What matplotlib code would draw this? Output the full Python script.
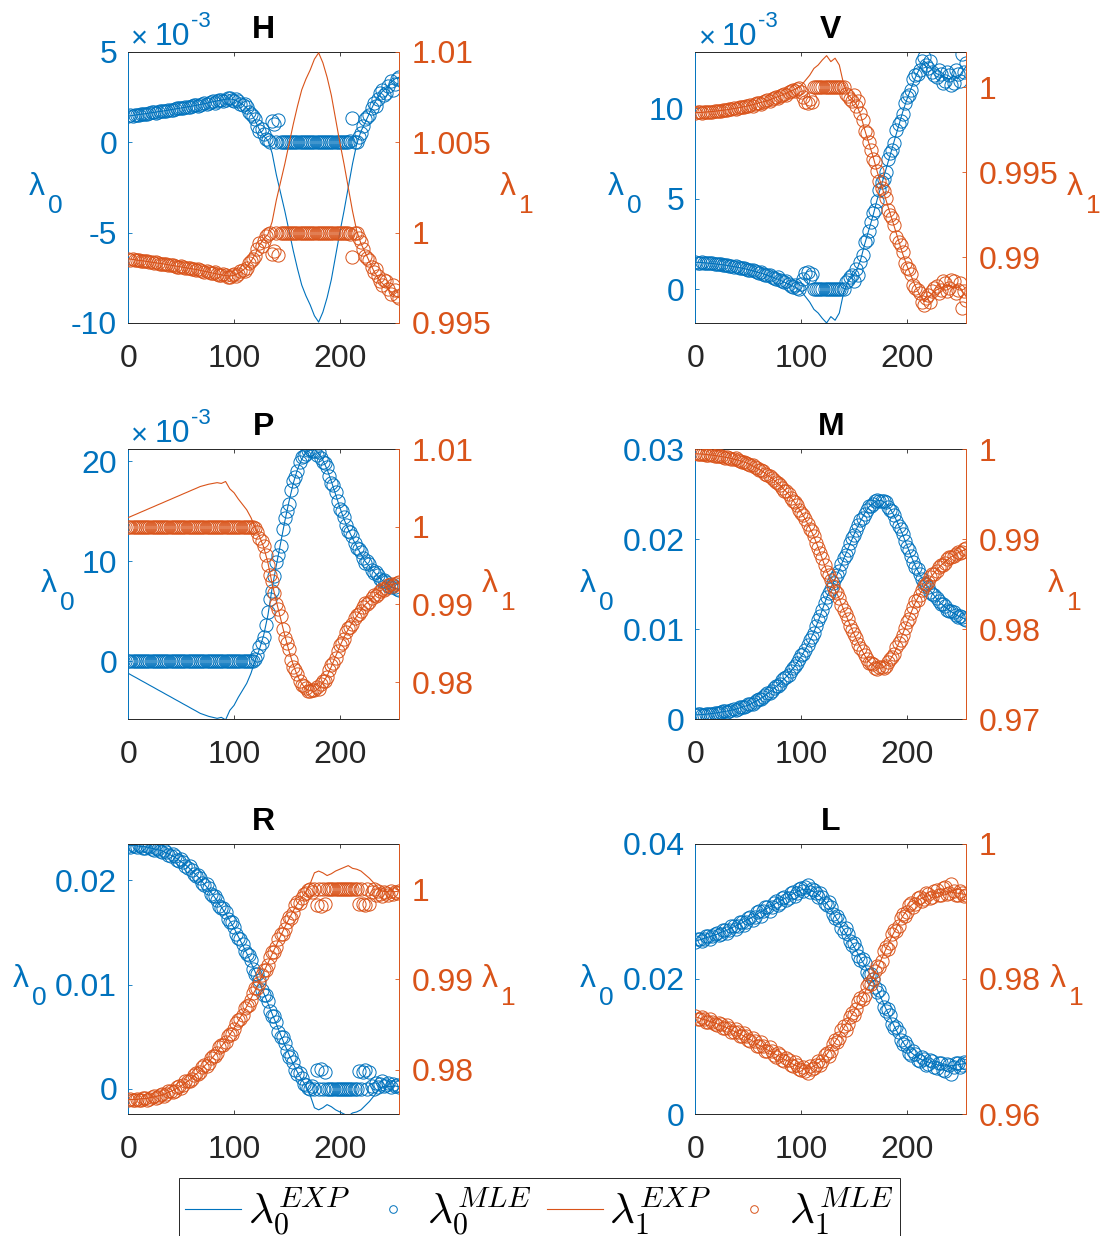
import numpy as np
import matplotlib
matplotlib.use('Agg')
import matplotlib.pyplot as plt
from matplotlib.ticker import FuncFormatter
from matplotlib.font_manager import FontProperties
from matplotlib.lines import Line2D

# Fuentes parecidas a las de MATLAB (Helvetica -> Liberation Sans)
plt.rcParams['font.family'] = 'Liberation Sans'

azul = '#0072BD'
naranja = '#D95319'
gris = '#262626'

# Ejes x: curvas EXP cada 4 muestras, puntos MLE cada 2 muestras
x4 = np.arange(0, 257, 4)
x2 = np.arange(0, 257, 2)

# ---------------- H ----------------
# lambda_0 en unidades de 1e-3
h_l0_exp = [1.45, 1.48, 1.52, 1.55, 1.58, 1.62, 1.65, 1.69, 1.72, 1.76, 1.80, 1.84, 1.88,
            1.92, 1.96, 2.00, 2.04, 2.09, 2.14, 2.19, 2.24, 2.29, 2.34, 2.38, 2.40, 2.36,
            2.25, 2.10, 1.90, 1.60, 1.20, 0.70, 0.35, 0.10, -0.60, -1.80, -2.80, -3.80, -4.90,
            -6.00, -7.00, -7.90, -8.50, -9.00, -9.60, -9.95, -9.40, -8.60, -7.60, -6.30, -5.00, -3.80,
            -2.50, -1.20, -0.10, 0.60, 1.10, 1.60, 2.10, 2.50, 2.80, 3.00, 3.30, 3.50, 3.60]
h_l1_exp = [0.99855, 0.99852, 0.99848, 0.99845, 0.99842, 0.99838, 0.99835, 0.99831, 0.99828, 0.99824, 0.99820, 0.99816, 0.99812,
            0.99808, 0.99804, 0.99800, 0.99796, 0.99791, 0.99786, 0.99781, 0.99776, 0.99771, 0.99766, 0.99762, 0.99760, 0.99764,
            0.99775, 0.99790, 0.99810, 0.99840, 0.99880, 0.99930, 0.99965, 0.99990, 1.00060, 1.00180, 1.00280, 1.00380, 1.00490,
            1.00600, 1.00700, 1.00790, 1.00850, 1.00900, 1.00960, 1.00995, 1.00940, 1.00860, 1.00760, 1.00630, 1.00500, 1.00380,
            1.00250, 1.00120, 1.00010, 0.99940, 0.99890, 0.99840, 0.99790, 0.99750, 0.99720, 0.99700, 0.99670, 0.99650, 0.99640]
h_l0_mle = [1.45, 1.50, 1.47, 1.49, 1.53, 1.51, 1.55, 1.58, 1.59, 1.57, 1.61, 1.65, 1.66, 1.64, 1.68, 1.72,
            1.73, 1.71, 1.75, 1.79, 1.81, 1.79, 1.83, 1.88, 1.89, 1.87, 1.91, 1.96, 1.97, 1.95, 1.99, 2.04,
            2.05, 2.03, 2.08, 2.14, 2.16, 2.12, 2.17, 2.25, 2.26, 2.20, 2.27, 2.35, 2.36, 2.28, 2.35, 2.46,
            2.45, 2.32, 2.30, 2.38, 2.30, 2.12, 2.05, 2.10, 1.95, 1.70, 1.55, 1.45, 1.30, 0.90, 0.60, 0.75,
            0.45, 0.20, 0.10, 0.00, 1.20, 1.00, 0.00, 1.25, 0.00, 0.00, 0.00, 0.00, 0.00, 0.00, 0.00, 0.00,
            0.00, 0.00, 0.00, 0.00, 0.00, 0.00, 0.00, 0.00, 0.00, 0.00, 0.00, 0.00, 0.00, 0.00, 0.00, 0.00,
            0.00, 0.00, 0.00, 0.00, 0.00, 0.00, 0.00, 0.00, 0.00, 0.05, 1.35, 0.00, 0.00, 0.30, 0.50, 0.90,
            1.30, 1.40, 1.50, 1.90, 2.20, 2.00, 2.40, 2.70, 2.90, 2.60, 2.70, 3.10, 3.40, 2.90, 3.20, 3.50, 3.60]
h_l1_mle = [0.99855, 0.99850, 0.99853, 0.99851, 0.99847, 0.99849, 0.99845, 0.99842, 0.99841, 0.99843, 0.99839, 0.99835, 0.99834, 0.99836, 0.99832, 0.99828,
            0.99827, 0.99829, 0.99825, 0.99821, 0.99819, 0.99821, 0.99817, 0.99812, 0.99811, 0.99813, 0.99809, 0.99804, 0.99803, 0.99805, 0.99801, 0.99796,
            0.99795, 0.99797, 0.99792, 0.99786, 0.99784, 0.99788, 0.99783, 0.99775, 0.99774, 0.99780, 0.99773, 0.99765, 0.99764, 0.99772, 0.99765, 0.99754,
            0.99755, 0.99768, 0.99770, 0.99762, 0.99770, 0.99788, 0.99795, 0.99790, 0.99805, 0.99830, 0.99845, 0.99855, 0.99870, 0.99910, 0.99940, 0.99925,
            0.99955, 0.99980, 0.99990, 1.0, 0.99880, 0.99900, 1.0, 0.99875, 1.0, 1.0, 1.0, 1.0, 1.0, 1.0, 1.0, 1.0,
            1.0, 1.0, 1.0, 1.0, 1.0, 1.0, 1.0, 1.0, 1.0, 1.0, 1.0, 1.0, 1.0, 1.0, 1.0, 1.0,
            1.0, 1.0, 1.0, 1.0, 1.0, 1.0, 1.0, 1.0, 1.0, 0.99995, 0.99865, 1.0, 1.0, 0.99970, 0.99950, 0.99910,
            0.99870, 0.99860, 0.99850, 0.99810, 0.99780, 0.99800, 0.99760, 0.99730, 0.99710, 0.99740, 0.99730, 0.99690, 0.99660, 0.99710, 0.99680, 0.99650, 0.99640]

# ---------------- V ----------------
v_l0_exp = [1.50, 1.49, 1.47, 1.45, 1.43, 1.40, 1.37, 1.34, 1.30, 1.26, 1.22, 1.17, 1.12,
            1.06, 1.00, 0.93, 0.86, 0.78, 0.70, 0.61, 0.51, 0.40, 0.29, 0.18, 0.08, -0.10,
            -0.40, -0.70, -1.10, -1.30, -1.60, -1.85, -1.50, -1.70, -1.30, -0.20, 0.40, 0.70, 1.00,
            1.60, 2.50, 3.30, 4.10, 5.00, 5.80, 6.60, 7.40, 8.20, 9.00, 9.80, 10.50, 11.10,
            11.70, 12.20, 12.60, 12.40, 12.10, 11.90, 11.80, 11.70, 11.60, 11.80, 11.60, 12.00, 12.30]
v_l1_exp = [0.99850, 0.99851, 0.99853, 0.99855, 0.99857, 0.99860, 0.99863, 0.99866, 0.99870, 0.99874, 0.99878, 0.99883, 0.99888,
            0.99894, 0.99900, 0.99907, 0.99914, 0.99922, 0.99930, 0.99939, 0.99949, 0.99960, 0.99971, 0.99982, 0.99992, 1.00010,
            1.00040, 1.00070, 1.00110, 1.00130, 1.00160, 1.00185, 1.00150, 1.00170, 1.00130, 1.00020, 0.99960, 0.99930, 0.99900,
            0.99840, 0.99750, 0.99670, 0.99590, 0.99500, 0.99420, 0.99340, 0.99260, 0.99180, 0.99100, 0.99020, 0.98950, 0.98890,
            0.98830, 0.98780, 0.98740, 0.98760, 0.98790, 0.98810, 0.98820, 0.98830, 0.98840, 0.98820, 0.98840, 0.98800, 0.98770]
v_l0_mle = [1.50, 1.47, 1.48, 1.51, 1.48, 1.45, 1.44, 1.46, 1.44, 1.40, 1.39, 1.41, 1.38, 1.34, 1.33, 1.35,
            1.31, 1.27, 1.25, 1.28, 1.23, 1.18, 1.16, 1.19, 1.13, 1.08, 1.05, 1.09, 1.01, 0.95, 0.92, 0.96,
            0.87, 0.80, 0.77, 0.82, 0.71, 0.64, 0.60, 0.66, 0.52, 0.44, 0.39, 0.46, 0.30, 0.20, 0.15, 0.25,
            0.10, 0.05, 0.30, 0.60, 0.90, 0.95, 0.70, 0.85, 0.00, 0.00, 0.00, 0.00, 0.00, 0.00, 0.00, 0.00,
            0.00, 0.00, 0.00, 0.00, 0.00, 0.00, 0.00, 0.40, 0.50, 0.70, 0.80, 0.45, 1.10, 0.80, 1.50, 1.90,
            2.60, 2.70, 3.20, 3.70, 4.20, 4.40, 4.90, 5.50, 5.90, 6.10, 6.50, 7.20, 7.50, 7.70, 8.10, 8.80,
            9.10, 9.30, 9.70, 10.30, 10.60, 10.70, 11.00, 11.60, 11.80, 11.90, 12.10, 12.60, 12.80, 12.40, 12.20, 12.60,
            12.00, 11.80, 11.70, 12.10, 11.90, 11.40, 11.50, 12.00, 11.80, 11.30, 11.40, 12.10, 11.90, 11.50, 13.00, 12.00, 12.50]
v_l1_mle = [0.99850, 0.99853, 0.99852, 0.99849, 0.99852, 0.99855, 0.99856, 0.99854, 0.99856, 0.99860, 0.99861, 0.99859, 0.99862, 0.99866, 0.99867, 0.99865,
            0.99869, 0.99873, 0.99875, 0.99872, 0.99877, 0.99882, 0.99884, 0.99881, 0.99887, 0.99892, 0.99895, 0.99891, 0.99899, 0.99905, 0.99908, 0.99904,
            0.99913, 0.99920, 0.99923, 0.99918, 0.99929, 0.99936, 0.99940, 0.99934, 0.99948, 0.99956, 0.99961, 0.99954, 0.99970, 0.99980, 0.99985, 0.99975,
            0.99990, 0.99995, 0.99970, 0.99940, 0.99910, 0.99905, 0.99930, 0.99915, 1.0, 1.0, 1.0, 1.0, 1.0, 1.0, 1.0, 1.0,
            1.0, 1.0, 1.0, 1.0, 1.0, 1.0, 1.0, 0.99960, 0.99950, 0.99930, 0.99920, 0.99955, 0.99890, 0.99920, 0.99850, 0.99810,
            0.99740, 0.99730, 0.99680, 0.99630, 0.99580, 0.99560, 0.99510, 0.99450, 0.99410, 0.99390, 0.99350, 0.99280, 0.99250, 0.99230, 0.99190, 0.99120,
            0.99090, 0.99070, 0.99030, 0.98970, 0.98940, 0.98930, 0.98900, 0.98840, 0.98820, 0.98810, 0.98790, 0.98740, 0.98720, 0.98760, 0.98780, 0.98740,
            0.98800, 0.98820, 0.98830, 0.98790, 0.98810, 0.98860, 0.98850, 0.98800, 0.98820, 0.98870, 0.98860, 0.98790, 0.98810, 0.98850, 0.98700, 0.98800, 0.98750]

# ---------------- P ----------------
p_l0_exp = [-1.20, -1.44, -1.67, -1.91, -2.14, -2.38, -2.61, -2.85, -3.08, -3.32, -3.55, -3.79, -4.02,
            -4.26, -4.49, -4.73, -4.96, -5.20, -5.35, -5.50, -5.60, -5.70, -5.60, -5.85, -4.90, -4.40,
            -3.60, -2.90, -2.20, -1.20, 0.10, 1.20, 2.60, 4.60, 7.30, 9.60, 11.80, 14.00, 16.00,
            17.80, 19.20, 20.20, 20.90, 21.10, 21.20, 20.80, 20.10, 19.20, 18.00, 16.70, 15.40, 14.20,
            13.20, 12.30, 11.50, 10.70, 10.00, 9.50, 9.00, 8.50, 8.10, 7.80, 7.50, 7.30, 7.20]
p_l1_exp = [1.00120, 1.00144, 1.00167, 1.00191, 1.00214, 1.00238, 1.00261, 1.00285, 1.00308, 1.00332, 1.00355, 1.00379, 1.00402,
            1.00426, 1.00449, 1.00473, 1.00496, 1.00520, 1.00535, 1.00550, 1.00560, 1.00570, 1.00560, 1.00585, 1.00490, 1.00440,
            1.00360, 1.00290, 1.00220, 1.00120, 0.99990, 0.99880, 0.99740, 0.99540, 0.99270, 0.99040, 0.98820, 0.98600, 0.98400,
            0.98220, 0.98080, 0.97980, 0.97910, 0.97890, 0.97880, 0.97920, 0.97990, 0.98080, 0.98200, 0.98330, 0.98460, 0.98580,
            0.98680, 0.98770, 0.98850, 0.98930, 0.99000, 0.99050, 0.99100, 0.99150, 0.99190, 0.99220, 0.99250, 0.99270, 0.99280]
p_l0_mle = [0.00, 0.00, 0.00, 0.00, 0.00, 0.00, 0.00, 0.00, 0.00, 0.00, 0.00, 0.00, 0.00, 0.00, 0.00, 0.00,
            0.00, 0.00, 0.00, 0.00, 0.00, 0.00, 0.00, 0.00, 0.00, 0.00, 0.00, 0.00, 0.00, 0.00, 0.00, 0.00,
            0.00, 0.00, 0.00, 0.00, 0.00, 0.00, 0.00, 0.00, 0.00, 0.00, 0.00, 0.00, 0.00, 0.00, 0.00, 0.00,
            0.00, 0.00, 0.00, 0.00, 0.00, 0.00, 0.00, 0.00, 0.00, 0.00, 0.00, 0.00, 0.20, 0.60, 1.40, 1.80,
            2.40, 3.60, 4.90, 6.20, 7.00, 8.50, 9.90, 10.60, 11.50, 13.20, 14.30, 15.00, 15.70, 17.10, 18.00, 18.40,
            19.00, 19.90, 20.40, 20.50, 20.70, 21.10, 21.20, 21.00, 21.00, 20.60, 20.90, 20.30, 19.90, 19.80, 19.40, 18.50,
            17.80, 17.60, 16.90, 16.00, 15.20, 15.00, 14.40, 13.60, 13.00, 12.90, 12.50, 11.80, 11.30, 11.20, 10.90, 10.30,
            9.80, 10.00, 9.70, 9.10, 8.80, 8.90, 8.60, 8.20, 8.00, 8.10, 7.90, 7.50, 7.40, 7.60, 7.40, 7.20, 7.10]
p_l1_mle = [1.0, 1.0, 1.0, 1.0, 1.0, 1.0, 1.0, 1.0, 1.0, 1.0, 1.0, 1.0, 1.0, 1.0, 1.0, 1.0,
            1.0, 1.0, 1.0, 1.0, 1.0, 1.0, 1.0, 1.0, 1.0, 1.0, 1.0, 1.0, 1.0, 1.0, 1.0, 1.0,
            1.0, 1.0, 1.0, 1.0, 1.0, 1.0, 1.0, 1.0, 1.0, 1.0, 1.0, 1.0, 1.0, 1.0, 1.0, 1.0,
            1.0, 1.0, 1.0, 1.0, 1.0, 1.0, 1.0, 1.0, 1.0, 1.0, 1.0, 1.0, 0.99980, 0.99940, 0.99860, 0.99820,
            0.99760, 0.99640, 0.99510, 0.99380, 0.99300, 0.99150, 0.99010, 0.98940, 0.98850, 0.98680, 0.98570, 0.98500, 0.98430, 0.98290, 0.98200, 0.98160,
            0.98100, 0.98010, 0.97960, 0.97950, 0.97930, 0.97890, 0.97880, 0.97900, 0.97900, 0.97940, 0.97910, 0.97970, 0.98010, 0.98020, 0.98060, 0.98150,
            0.98220, 0.98240, 0.98310, 0.98400, 0.98480, 0.98500, 0.98560, 0.98640, 0.98700, 0.98710, 0.98750, 0.98820, 0.98870, 0.98880, 0.98910, 0.98970,
            0.99020, 0.99000, 0.99030, 0.99090, 0.99120, 0.99110, 0.99140, 0.99180, 0.99200, 0.99190, 0.99210, 0.99250, 0.99260, 0.99240, 0.99260, 0.99280, 0.99290]

# ---------------- M ----------------
m_l0_exp = [0.50, 0.52, 0.55, 0.60, 0.65, 0.72, 0.80, 0.88, 0.97, 1.08, 1.20, 1.35, 1.50,
            1.70, 1.95, 2.20, 2.50, 2.85, 3.20, 3.60, 4.00, 4.50, 5.00, 5.60, 6.30, 7.00,
            7.80, 8.70, 9.70, 10.90, 12.20, 13.50, 14.60, 15.60, 16.60, 17.80, 18.90, 20.00, 21.10,
            22.00, 22.90, 23.60, 24.00, 24.30, 24.30, 24.00, 23.40, 22.60, 21.60, 20.50, 19.30, 18.10,
            17.00, 16.10, 15.30, 14.60, 14.00, 13.40, 12.90, 12.50, 12.10, 11.80, 11.50, 11.30, 11.10]
m_l1_exp = [0.99950, 0.99948, 0.99945, 0.99940, 0.99935, 0.99928, 0.99920, 0.99912, 0.99903, 0.99892, 0.99880, 0.99865, 0.99850,
            0.99830, 0.99805, 0.99780, 0.99750, 0.99715, 0.99680, 0.99640, 0.99600, 0.99550, 0.99500, 0.99440, 0.99370, 0.99300,
            0.99220, 0.99130, 0.99030, 0.98910, 0.98780, 0.98650, 0.98540, 0.98440, 0.98340, 0.98220, 0.98110, 0.98000, 0.97890,
            0.97800, 0.97710, 0.97640, 0.97600, 0.97570, 0.97570, 0.97600, 0.97660, 0.97740, 0.97840, 0.97950, 0.98070, 0.98190,
            0.98300, 0.98390, 0.98470, 0.98540, 0.98600, 0.98660, 0.98710, 0.98750, 0.98790, 0.98820, 0.98850, 0.98870, 0.98890]
m_l0_mle = [0.45, 0.55, 0.55, 0.48, 0.52, 0.60, 0.64, 0.56, 0.62, 0.72, 0.76, 0.70, 0.78, 0.88, 0.92, 0.86,
            0.95, 1.08, 1.12, 1.00, 1.18, 1.32, 1.40, 1.36, 1.47, 1.66, 1.75, 1.74, 1.92, 2.12, 2.26, 2.25,
            2.46, 2.72, 2.91, 2.96, 3.15, 3.46, 3.68, 3.72, 3.95, 4.32, 4.58, 4.67, 4.95, 5.38, 5.70, 5.88,
            6.22, 6.75, 7.10, 7.30, 7.70, 8.30, 8.85, 9.10, 9.60, 10.40, 11.00, 11.50, 12.10, 12.90, 13.60, 14.00,
            14.50, 15.20, 15.70, 16.00, 16.50, 17.30, 17.90, 18.30, 18.80, 19.60, 20.10, 20.50, 21.00, 21.60, 22.10, 22.40,
            22.80, 23.30, 23.70, 23.70, 23.90, 24.30, 24.40, 24.20, 24.20, 24.30, 24.10, 23.60, 23.30, 23.10, 22.70, 22.00,
            21.50, 21.20, 20.60, 19.80, 19.20, 18.80, 18.20, 17.50, 16.90, 16.70, 16.20, 15.60, 15.20, 15.00, 14.70, 14.20,
            13.90, 13.80, 13.50, 13.10, 12.80, 12.80, 12.60, 12.20, 12.00, 12.00, 11.90, 11.60, 11.40, 11.50, 11.40, 11.10, 11.00]
m_l1_mle = [0.99955, 0.99945, 0.99945, 0.99952, 0.99948, 0.99940, 0.99936, 0.99944, 0.99938, 0.99928, 0.99924, 0.99930, 0.99922, 0.99912, 0.99908, 0.99914,
            0.99905, 0.99892, 0.99888, 0.99900, 0.99882, 0.99868, 0.99860, 0.99864, 0.99853, 0.99834, 0.99825, 0.99826, 0.99808, 0.99788, 0.99774, 0.99775,
            0.99754, 0.99728, 0.99709, 0.99704, 0.99685, 0.99654, 0.99632, 0.99628, 0.99605, 0.99568, 0.99542, 0.99533, 0.99505, 0.99462, 0.99430, 0.99412,
            0.99378, 0.99325, 0.99290, 0.99270, 0.99230, 0.99170, 0.99115, 0.99090, 0.99040, 0.98960, 0.98900, 0.98850, 0.98790, 0.98710, 0.98640, 0.98600,
            0.98550, 0.98480, 0.98430, 0.98400, 0.98350, 0.98270, 0.98210, 0.98170, 0.98120, 0.98040, 0.97990, 0.97950, 0.97900, 0.97840, 0.97790, 0.97760,
            0.97720, 0.97670, 0.97630, 0.97630, 0.97610, 0.97570, 0.97560, 0.97580, 0.97580, 0.97570, 0.97590, 0.97640, 0.97670, 0.97690, 0.97730, 0.97800,
            0.97850, 0.97880, 0.97940, 0.98020, 0.98080, 0.98120, 0.98180, 0.98250, 0.98310, 0.98330, 0.98380, 0.98440, 0.98480, 0.98500, 0.98530, 0.98580,
            0.98610, 0.98620, 0.98650, 0.98690, 0.98720, 0.98720, 0.98740, 0.98780, 0.98800, 0.98800, 0.98810, 0.98840, 0.98860, 0.98850, 0.98860, 0.98890, 0.98900]

# ---------------- R ----------------
r_l0_exp = [23.3, 23.3, 23.3, 23.2, 23.2, 23.1, 23.0, 22.9, 22.8, 22.6, 22.4, 22.2, 21.9,
            21.6, 21.3, 20.9, 20.5, 20.1, 19.6, 19.1, 18.6, 18.0, 17.4, 16.8, 16.1, 15.4,
            14.6, 13.8, 13.0, 12.1, 11.2, 10.2, 9.2, 8.2, 7.2, 6.2, 5.2, 4.2, 3.3,
            2.4, 1.6, 0.9, 0.3, -0.6, -1.8, -2.0, -1.8, -1.5, -1.7, -2.0, -2.2, -2.4,
            -2.6, -2.3, -2.2, -2.0, -1.6, -1.2, -0.7, -0.2, 0.2, 0.3, 0.2, 0.3, 0.2]
r_l1_exp = [0.97670, 0.97670, 0.97670, 0.97680, 0.97680, 0.97690, 0.97700, 0.97710, 0.97720, 0.97740, 0.97760, 0.97780, 0.97810,
            0.97840, 0.97870, 0.97910, 0.97950, 0.97990, 0.98040, 0.98090, 0.98140, 0.98200, 0.98260, 0.98320, 0.98390, 0.98460,
            0.98540, 0.98620, 0.98700, 0.98790, 0.98880, 0.98980, 0.99080, 0.99180, 0.99280, 0.99380, 0.99480, 0.99580, 0.99670,
            0.99760, 0.99840, 0.99910, 0.99970, 1.00060, 1.00180, 1.00200, 1.00180, 1.00150, 1.00170, 1.00200, 1.00220, 1.00240,
            1.00260, 1.00230, 1.00220, 1.00200, 1.00160, 1.00120, 1.00070, 1.00020, 0.99980, 0.99970, 0.99980, 0.99970, 0.99980]
r_l0_mle = [23.3, 23.2, 23.4, 23.3, 23.2, 23.4, 23.3, 23.1, 23.1, 23.3, 23.2, 23.0, 22.9, 23.1, 23.0, 22.8,
            22.7, 22.9, 22.7, 22.4, 22.3, 22.5, 22.3, 21.9, 21.8, 22.0, 21.7, 21.3, 21.2, 21.3, 21.0, 20.6,
            20.4, 20.5, 20.2, 19.7, 19.5, 19.6, 19.2, 18.7, 18.5, 18.5, 18.1, 17.5, 17.3, 17.3, 16.9, 16.3,
            16.0, 16.0, 15.5, 14.8, 14.5, 14.4, 13.9, 13.2, 12.9, 12.8, 12.3, 11.5, 11.0, 11.0, 10.4, 9.5,
            9.0, 9.0, 8.4, 7.5, 7.0, 7.0, 6.4, 5.5, 5.0, 5.0, 4.4, 3.6, 3.1, 3.2, 2.6, 1.8,
            1.4, 1.5, 1.0, 0.5, 0.4, 0.1, 0.0, 0.3, 0.0, 1.8, 0.0, 1.9, 0.0, 1.6, 0.0, 0.0,
            0.0, 0.0, 0.0, 0.0, 0.0, 0.0, 0.0, 0.0, 0.0, 0.0, 0.0, 0.0, 0.0, 1.7, 0.0, 1.6,
            1.8, 0.0, 1.6, 0.3, 0.0, 0.6, 0.2, 0.5, 0.8, 0.3, 0.4, 0.6, 0.2, 0.5, 0.3, 0.4, 0.2]
r_l1_mle = [0.97670, 0.97680, 0.97660, 0.97670, 0.97680, 0.97660, 0.97670, 0.97690, 0.97690, 0.97670, 0.97680, 0.97700, 0.97710, 0.97690, 0.97700, 0.97720,
            0.97730, 0.97710, 0.97730, 0.97760, 0.97770, 0.97750, 0.97770, 0.97810, 0.97820, 0.97800, 0.97830, 0.97870, 0.97880, 0.97870, 0.97900, 0.97940,
            0.97960, 0.97950, 0.97980, 0.98030, 0.98050, 0.98040, 0.98080, 0.98130, 0.98150, 0.98150, 0.98190, 0.98250, 0.98270, 0.98270, 0.98310, 0.98370,
            0.98400, 0.98400, 0.98450, 0.98520, 0.98550, 0.98560, 0.98610, 0.98680, 0.98710, 0.98720, 0.98770, 0.98850, 0.98900, 0.98900, 0.98960, 0.99050,
            0.99100, 0.99100, 0.99160, 0.99250, 0.99300, 0.99300, 0.99360, 0.99450, 0.99500, 0.99500, 0.99560, 0.99640, 0.99690, 0.99680, 0.99740, 0.99820,
            0.99860, 0.99850, 0.99900, 0.99950, 0.99960, 0.99990, 1.0, 0.99970, 1.0, 0.99820, 1.0, 0.99810, 1.0, 0.99840, 1.0, 1.0,
            1.0, 1.0, 1.0, 1.0, 1.0, 1.0, 1.0, 1.0, 1.0, 1.0, 1.0, 1.0, 1.0, 0.99830, 1.0, 0.99840,
            0.99820, 1.0, 0.99840, 0.99970, 1.0, 0.99940, 0.99980, 0.99950, 0.99920, 0.99970, 0.99960, 0.99940, 0.99980, 0.99950, 0.99970, 0.99960, 0.99980]

# ---------------- L ----------------
l_l0_exp = [25.6, 25.8, 26.0, 26.2, 26.4, 26.6, 26.9, 27.1, 27.4, 27.7, 28.0, 28.3, 28.7,
            29.0, 29.4, 29.8, 30.1, 30.5, 30.8, 31.2, 31.5, 31.9, 32.2, 32.6, 32.9, 33.2,
            33.3, 33.2, 32.9, 32.5, 31.9, 31.2, 30.3, 29.3, 28.3, 27.3, 26.3, 25.3, 24.2,
            23.1, 22.0, 20.9, 19.7, 18.4, 17.0, 15.6, 14.3, 13.0, 11.8, 10.7, 9.8, 9.1,
            8.6, 8.2, 7.9, 7.7, 7.5, 7.3, 7.2, 7.1, 7.1, 7.2, 7.3, 7.4, 7.5]
l_l1_exp = [0.97440, 0.97420, 0.97400, 0.97380, 0.97360, 0.97340, 0.97310, 0.97290, 0.97260, 0.97230, 0.97200, 0.97170, 0.97130,
            0.97100, 0.97060, 0.97020, 0.96990, 0.96950, 0.96920, 0.96880, 0.96850, 0.96810, 0.96780, 0.96740, 0.96710, 0.96680,
            0.96670, 0.96680, 0.96710, 0.96750, 0.96810, 0.96880, 0.96970, 0.97070, 0.97170, 0.97270, 0.97370, 0.97470, 0.97580,
            0.97690, 0.97800, 0.97910, 0.98030, 0.98160, 0.98300, 0.98440, 0.98570, 0.98700, 0.98820, 0.98930, 0.99020, 0.99090,
            0.99140, 0.99180, 0.99210, 0.99230, 0.99250, 0.99270, 0.99280, 0.99290, 0.99290, 0.99280, 0.99270, 0.99260, 0.99250]
l_l0_mle = [25.5, 25.9, 25.9, 25.6, 25.9, 26.3, 26.4, 25.9, 26.3, 26.7, 26.8, 26.5, 26.7, 27.2, 27.3, 26.8,
            27.2, 27.8, 27.9, 27.4, 27.8, 28.4, 28.5, 28.0, 28.5, 29.1, 29.2, 28.8, 29.2, 29.9, 30.0, 29.4,
            30.0, 30.6, 30.7, 30.1, 30.6, 31.3, 31.5, 30.9, 31.3, 32.0, 32.2, 31.7, 32.0, 32.8, 32.9, 32.3,
            32.7, 33.4, 33.5, 33.0, 33.6, 33.9, 32.9, 33.4, 33.2, 32.8, 32.2, 32.7, 32.2, 31.3, 30.9, 31.4,
            30.7, 29.6, 29.0, 29.4, 28.7, 27.6, 27.0, 27.5, 26.6, 25.6, 25.0, 25.3, 24.5, 23.4, 22.8, 23.0,
            22.3, 21.1, 20.6, 20.8, 20.0, 18.8, 18.1, 18.3, 17.3, 15.9, 15.3, 15.5, 14.6, 13.3, 12.7, 12.9,
            12.1, 11.0, 10.4, 10.7, 10.1, 9.1, 8.8, 9.3, 8.9, 8.0, 7.9, 8.5, 8.2, 7.3, 7.4, 8.0,
            7.8, 6.9, 6.8, 7.6, 7.5, 6.5, 6.4, 7.4, 7.3, 5.9, 7.0, 7.6, 7.5, 7.0, 7.2, 7.7, 7.6]
l_l1_mle = [0.97450, 0.97410, 0.97410, 0.97440, 0.97410, 0.97370, 0.97360, 0.97410, 0.97370, 0.97330, 0.97320, 0.97350, 0.97330, 0.97280, 0.97270, 0.97320,
            0.97280, 0.97220, 0.97210, 0.97260, 0.97220, 0.97160, 0.97150, 0.97200, 0.97150, 0.97090, 0.97080, 0.97120, 0.97080, 0.97010, 0.97000, 0.97060,
            0.97000, 0.96940, 0.96930, 0.96990, 0.96940, 0.96870, 0.96850, 0.96910, 0.96870, 0.96800, 0.96780, 0.96830, 0.96800, 0.96720, 0.96710, 0.96770,
            0.96730, 0.96660, 0.96650, 0.96700, 0.96640, 0.96610, 0.96710, 0.96660, 0.96680, 0.96720, 0.96780, 0.96730, 0.96780, 0.96870, 0.96910, 0.96860,
            0.96930, 0.97040, 0.97100, 0.97060, 0.97130, 0.97240, 0.97300, 0.97250, 0.97340, 0.97440, 0.97500, 0.97470, 0.97550, 0.97660, 0.97720, 0.97700,
            0.97770, 0.97890, 0.97940, 0.97920, 0.98000, 0.98120, 0.98190, 0.98170, 0.98270, 0.98410, 0.98470, 0.98450, 0.98540, 0.98670, 0.98730, 0.98710,
            0.98790, 0.98900, 0.98960, 0.98930, 0.98990, 0.99090, 0.99120, 0.99070, 0.99110, 0.99200, 0.99210, 0.99150, 0.99180, 0.99270, 0.99260, 0.99200,
            0.99220, 0.99310, 0.99320, 0.99240, 0.99250, 0.99350, 0.99360, 0.99260, 0.99270, 0.99410, 0.99300, 0.99240, 0.99250, 0.99300, 0.99280, 0.99230, 0.99240]

fig = plt.figure(figsize=(11.05, 12.36), dpi=100)

FS = 23  # tamaño de letra de ejes


def texto(ax, xy, off, s, color, fs):
    # texto colocado a un desplazamiento en pixeles desde un punto del eje
    ax.annotate(s, xy=xy, xycoords='axes fraction', xytext=off, textcoords='offset pixels',
                ha='left', va='baseline', color=color, fontsize=fs)


def panel(pos, titulo, l0_exp, l0_mle, l1_exp, l1_mle, lim0, lim1, ticks0, ticks1, exp3, dx0, dx1):
    ax = fig.add_axes(pos)
    ax2 = ax.twinx()

    # lambda_0 (eje izquierdo); los datos estan en unidades de 1e-3
    ax.plot(x4, np.array(l0_exp) * 1e-3, color=azul, lw=0.8)
    ax.plot(x2, np.array(l0_mle) * 1e-3, 'o', mfc='none', mec=azul, ms=9.5, mew=0.7)
    # lambda_1 (eje derecho)
    ax2.plot(x4, l1_exp, color=naranja, lw=0.8)
    ax2.plot(x2, l1_mle, 'o', mfc='none', mec=naranja, ms=9.5, mew=0.7)

    ax.set_xlim(0, 256)
    ax.set_ylim(*lim0)
    ax2.set_ylim(*lim1)
    ax.set_xticks([0, 100, 200])
    ax.set_yticks(ticks0)
    ax2.set_yticks(ticks1)

    if exp3:
        ax.yaxis.set_major_formatter(FuncFormatter(lambda v, p: '%g' % round(v * 1e3, 6)))
        # multiplicador x10^-3 al estilo MATLAB
        texto(ax, (0, 1), (3, 5), '×', azul, 21)
        texto(ax, (0, 1), (26, 7), '10', azul, FS)
        texto(ax, (0, 1), (63, 25), '-3', azul, 16)
    else:
        ax.yaxis.set_major_formatter(FuncFormatter(lambda v, p: '%g' % round(v, 6)))
    ax2.yaxis.set_major_formatter(FuncFormatter(lambda v, p: '%g' % round(v, 6)))

    # Estilo de ejes tipo MATLAB
    ax.spines['right'].set_visible(False)
    ax.spines['left'].set_color(azul)
    ax.spines['top'].set_color(gris)
    ax.spines['bottom'].set_color(gris)
    for s in ['left', 'top', 'bottom']:
        ax2.spines[s].set_visible(False)
    ax2.spines['right'].set_color(naranja)
    for s in ax.spines.values():
        s.set_linewidth(0.7)
    ax2.spines['right'].set_linewidth(0.7)

    ax.tick_params(axis='x', direction='in', top=True, length=3, width=0.6, colors=gris,
                   labelsize=FS, pad=15)
    ax.tick_params(axis='y', direction='in', length=3, width=0.6, colors=azul,
                   labelsize=FS, pad=8)
    ax2.tick_params(axis='y', direction='in', length=3, width=0.6, colors=naranja,
                    labelsize=FS, pad=9)

    # Etiquetas lambda_0 / lambda_1 con subindice grande (estilo tex de MATLAB)
    texto(ax, (0, 0.5), (dx0, -8), 'λ', azul, FS)
    texto(ax, (0, 0.5), (dx0 + 20, -26), '0', azul, 19)
    texto(ax2, (1, 0.5), (dx1, -8), 'λ', naranja, FS)
    texto(ax2, (1, 0.5), (dx1 + 19, -26), '1', naranja, 19)

    ax.set_title(titulo, fontsize=FS, fontweight='bold', pad=10)
    return ax, ax2


izq, der, ancho = 0.1161, 0.6294, 0.2450
filas = [(0.7387, 0.2193), (0.4180, 0.2185), (0.0987, 0.2185)]

panel([izq, filas[0][0], ancho, filas[0][1]], 'H', h_l0_exp, h_l0_mle, h_l1_exp, h_l1_mle,
      (-10e-3, 5e-3), (0.995, 1.01), [-0.01, -0.005, 0, 0.005], [0.995, 1.0, 1.005, 1.01], True,
      -100, 101)
panel([der, filas[0][0], ancho, filas[0][1]], 'V', v_l0_exp, v_l0_mle, v_l1_exp, v_l1_mle,
      (-1.85e-3, 13.1e-3), (0.98615, 1.00207), [0, 0.005, 0.01], [0.99, 0.995, 1.0], True,
      -88, 101)
panel([izq, filas[1][0], ancho, filas[1][1]], 'P', p_l0_exp, p_l0_mle, p_l1_exp, p_l1_mle,
      (-5.8e-3, 21.2e-3), (0.9752, 1.01), [0, 0.01, 0.02], [0.98, 0.99, 1.0, 1.01], True,
      -88, 83)
panel([der, filas[1][0], ancho, filas[1][1]], 'M', m_l0_exp, m_l0_mle, m_l1_exp, m_l1_mle,
      (0, 0.03), (0.97, 1.0), [0, 0.01, 0.02, 0.03], [0.97, 0.98, 0.99, 1.0], False,
      -116, 82)
panel([izq, filas[2][0], ancho, filas[2][1]], 'R', r_l0_exp, r_l0_mle, r_l1_exp, r_l1_mle,
      (-0.0024, 0.02346), (0.9751, 1.005), [0, 0.01, 0.02], [0.98, 0.99, 1.0], False,
      -116, 83)
panel([der, filas[2][0], ancho, filas[2][1]], 'L', l_l0_exp, l_l0_mle, l_l1_exp, l_l1_mle,
      (0, 0.04), (0.96, 1.0), [0, 0.02, 0.04], [0.96, 0.98, 1.0], False,
      -116, 84)

# Leyenda comun en la parte inferior
handles = [Line2D([], [], color=azul, lw=0.8),
           Line2D([], [], ls='none', marker='o', mfc='none', mec=azul, ms=5.5, mew=0.7),
           Line2D([], [], color=naranja, lw=0.8),
           Line2D([], [], ls='none', marker='o', mfc='none', mec=naranja, ms=5.5, mew=0.7)]
labels = [r'$\lambda_0^{EXP}$', r'$\lambda_0^{MLE}$', r'$\lambda_1^{EXP}$', r'$\lambda_1^{MLE}$']
leg = fig.legend(handles, labels, loc='upper center', bbox_to_anchor=(0.4882, 0.0469), ncol=4,
                 prop=FontProperties(size=31, math_fontfamily='cm'), fancybox=False,
                 framealpha=1, edgecolor=gris, borderpad=0.15, handlelength=1.3,
                 handletextpad=0.15, columnspacing=0.35, borderaxespad=0)
leg.get_frame().set_linewidth(0.7)

plt.savefig('out.png', dpi=100, facecolor='white')
